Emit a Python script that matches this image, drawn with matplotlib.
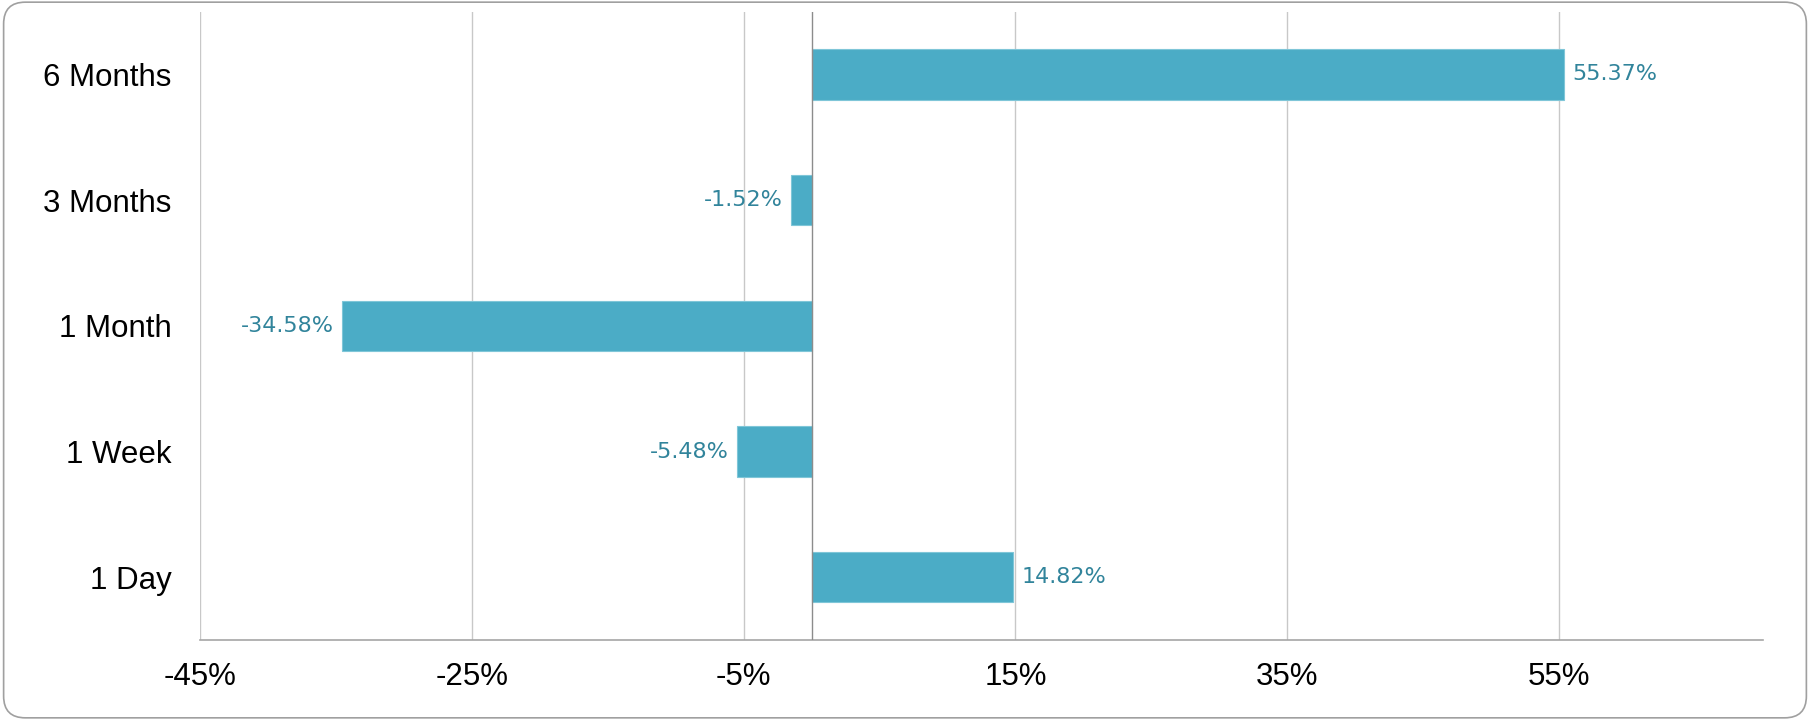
import matplotlib
matplotlib.use("Agg")
import matplotlib.pyplot as plt
from matplotlib.patches import FancyBboxPatch

categories = ["1 Day", "1 Week", "1 Month", "3 Months", "6 Months"]
values = [14.82, -5.48, -34.58, -1.52, 55.37]
xticks = [-45, -25, -5, 15, 35, 55]

bar_color = "#4BACC6"
label_color = "#31849B"

fig = plt.figure(figsize=(18.1, 7.2), dpi=100)
ax = fig.add_axes([0.1105, 0.111, 0.8635, 0.873])

y = list(range(len(categories)))
ax.barh(y, values, height=0.4, color=bar_color, edgecolor="#7FC6D8", linewidth=0.8, zorder=3)

ax.set_xlim(-45, 70)
ax.set_ylim(-0.5, 4.5)
ax.set_xticks(xticks)
ax.set_xticklabels([f"{t}%" for t in xticks], family="Liberation Sans", fontsize=22.5)
ax.set_yticks(y)
ax.set_yticklabels(categories, family="Liberation Sans", fontsize=22.5)
ax.tick_params(axis="both", length=0, colors="black")
ax.tick_params(axis="x", pad=16)
ax.tick_params(axis="y", pad=20.5)

ax.grid(axis="x", color="#C8C8C8", linewidth=1.0, zorder=0)
ax.axvline(0, color="#8C8C8C", linewidth=1.0, zorder=4)
for s in ["top", "right", "left"]:
    ax.spines[s].set_visible(False)
ax.spines["bottom"].set_color("#A6A6A6")
ax.spines["bottom"].set_linewidth(1.2)

for yi, v in zip(y, values):
    ha = "left" if v >= 0 else "right"
    off = 0.6 if v >= 0 else -0.6
    ax.text(v + off, yi, f"{v:.2f}%", ha=ha, va="center", color=label_color,
            family="DejaVu Sans", fontsize=16, zorder=5)

border = FancyBboxPatch((0.002, 0.003), 0.996, 0.994, boxstyle="round,pad=0,rounding_size=0.012",
                        transform=fig.transFigure, facecolor="none", edgecolor="#A0A0A0",
                        linewidth=1.2, mutation_aspect=18.1/7.2)
fig.patches.append(border)

fig.savefig("out.png", dpi=100)
